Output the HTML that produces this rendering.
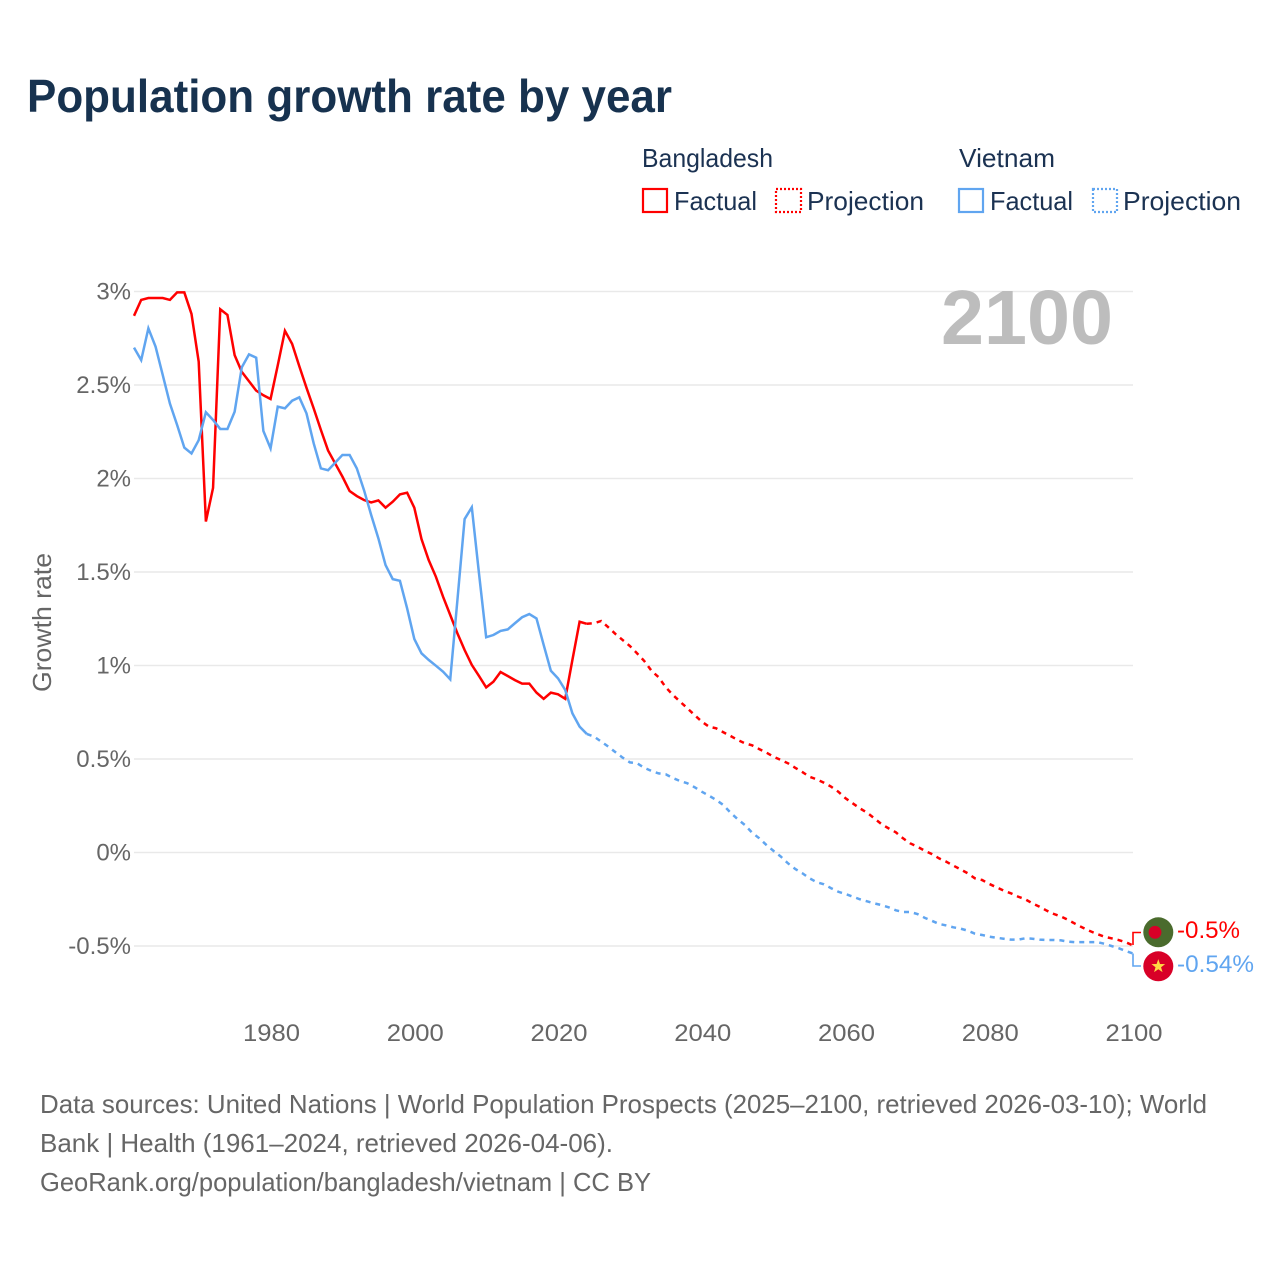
<!DOCTYPE html>
<html lang="en">
<head>
<meta charset="utf-8">
<title>Population growth rate by year</title>
<style>
html,body{margin:0;padding:0;background:#fff;}
svg{display:block;font-family:"Liberation Sans",sans-serif;}
</style>
</head>
<body>
<svg id="chart" xmlns="http://www.w3.org/2000/svg" width="1280" height="1280" viewBox="0 0 1280 1280">
  <rect x="0" y="0" width="1280" height="1280" fill="#ffffff"/>
  <text x="27" y="112" font-size="46" font-weight="700" fill="#17324f" textLength="645" lengthAdjust="spacingAndGlyphs">Population growth rate by year</text>

  <g font-size="26" fill="#1b3252">
    <text x="642" y="167" textLength="131" lengthAdjust="spacingAndGlyphs">Bangladesh</text>
    <text x="959" y="167" textLength="96" lengthAdjust="spacingAndGlyphs">Vietnam</text>
    <g>
      <rect x="643" y="189" width="24" height="23" fill="none" stroke="#ff0000" stroke-width="2.2"/>
      <text x="674" y="210" textLength="83" lengthAdjust="spacingAndGlyphs">Factual</text>
    </g>
    <g>
      <rect x="776" y="189" width="25" height="23" fill="none" stroke="#ff0000" stroke-width="2.2" stroke-dasharray="2 2"/>
      <text x="807" y="210" textLength="117" lengthAdjust="spacingAndGlyphs">Projection</text>
    </g>
    <g>
      <rect x="959" y="189" width="24" height="23" fill="none" stroke="#60a5f0" stroke-width="2.2"/>
      <text x="990" y="210" textLength="83" lengthAdjust="spacingAndGlyphs">Factual</text>
    </g>
    <g>
      <rect x="1093" y="189" width="24" height="23" fill="none" stroke="#60a5f0" stroke-width="2.2" stroke-dasharray="2 2"/>
      <text x="1123" y="210" textLength="118" lengthAdjust="spacingAndGlyphs">Projection</text>
    </g>
  </g>

  <g id="grid"></g>
  <g id="yTickLabels" font-size="24" fill="#666666" text-anchor="end"></g>
  <g id="xTickLabels" font-size="24" fill="#666666" text-anchor="middle"></g>
  <text transform="translate(51,692) rotate(-90)" font-size="26" fill="#666666" textLength="139" lengthAdjust="spacingAndGlyphs">Growth rate</text>

  <text x="941" y="344" font-size="77" font-weight="700" fill="#bdbdbd" textLength="172" lengthAdjust="spacingAndGlyphs">2100</text>

  <g id="series"></g>

  <path d="M1133 945V932.5H1141" fill="none" stroke="#ff0000" stroke-width="1.6"/>
  <path d="M1133 953.5V966H1141" fill="none" stroke="#60a5f0" stroke-width="1.6"/>

  <g>
    <circle cx="1158.3" cy="932.3" r="15" fill="#4a6b2d"/>
    <circle cx="1155" cy="932.3" r="6.4" fill="#d80027"/>
  </g>
  <g>
    <circle cx="1158.3" cy="966.3" r="15" fill="#d80027"/>
    <polygon fill="#ffda44" points="1158.3,959.1 1160,963.95 1165.15,964.08 1161.06,967.2 1162.53,972.12 1158.3,969.2 1154.07,972.12 1155.54,967.2 1151.45,964.08 1156.6,963.95"/>
  </g>
  <text x="1177" y="938" font-size="24" fill="#ff0000" textLength="63" lengthAdjust="spacingAndGlyphs">-0.5%</text>
  <text x="1177" y="972" font-size="24" fill="#60a5f0" textLength="77" lengthAdjust="spacingAndGlyphs">-0.54%</text>

  <g font-size="26" fill="#666666">
    <text x="40" y="1113" textLength="1167" lengthAdjust="spacingAndGlyphs">Data sources: United Nations | World Population Prospects (2025–2100, retrieved 2026-03-10); World</text>
    <text x="40" y="1152" textLength="573" lengthAdjust="spacingAndGlyphs">Bank | Health (1961–2024, retrieved 2026-04-06).</text>
    <text x="40" y="1191" textLength="611" lengthAdjust="spacingAndGlyphs">GeoRank.org/population/bangladesh/vietnam | CC BY</text>
  </g>
</svg>
<script>
const factualStartYear = 1961;
const projectionStartYear = 2024;
const xTicks = [1980, 2000, 2020, 2040, 2060, 2080, 2100];
const yTicks = [3, 2.5, 2, 1.5, 1, 0.5, 0, -0.5];
const yTickLabels = ['3%', '2.5%', '2%', '1.5%', '1%', '0.5%', '0%', '-0.5%'];
const bangladeshFactual = [
  2.87,2.955,2.965,2.965,2.965,2.955,2.995,2.995,2.88,2.625,
  1.77,1.95,2.905,2.875,2.66,2.57,2.52,2.47,2.445,2.425,
  2.605,2.79,2.72,2.6,2.485,2.375,2.26,2.15,2.08,2.01,
  1.933,1.906,1.885,1.872,1.883,1.844,1.876,1.915,1.924,1.844,
  1.676,1.564,1.475,1.368,1.27,1.172,1.083,1.003,0.944,0.883,
  0.913,0.965,0.944,0.922,0.903,0.903,0.855,0.822,0.855,0.846,
  0.822,1.03,1.234,1.223
];
const vietnamFactual = [
  2.70,2.633,2.803,2.705,2.553,2.40,2.286,2.165,2.134,2.205,
  2.354,2.313,2.265,2.265,2.357,2.595,2.664,2.646,2.254,2.161,
  2.384,2.375,2.416,2.434,2.348,2.188,2.054,2.044,2.085,2.126,
  2.126,2.054,1.938,1.805,1.68,1.537,1.462,1.453,1.306,1.142,
  1.065,1.03,0.999,0.967,0.926,1.35,1.783,1.846,1.493,1.151,
  1.163,1.185,1.193,1.226,1.258,1.275,1.252,1.11,0.972,0.931,
  0.869,0.744,0.673,0.634
];
const bangladeshProjection = [
  1.223,1.226,1.238,1.204,1.168,1.136,1.104,
  1.065,1.024,0.972,0.937,0.883,0.842,0.806,0.771,0.735,0.70,
  0.673,0.664,0.643,0.623,0.602,0.584,0.573,0.553,0.534,0.512,
  0.495,0.477,0.453,0.430,0.405,0.391,0.373,0.352,0.325,0.29,
  0.263,0.236,0.213,0.183,0.152,0.129,0.108,0.076,0.049,0.031,
  0.01,-0.008,-0.031,-0.049,-0.07,-0.09,-0.111,-0.138,-0.147,-0.168,
  -0.186,-0.204,-0.218,-0.236,-0.25,-0.272,-0.29,-0.311,-0.329,-0.343,
  -0.361,-0.382,-0.402,-0.42,-0.436,-0.45,-0.459,-0.468,-0.48,-0.497
];
const vietnamProjection = [
  0.634,0.62,0.593,0.566,0.536,0.507,0.482,
  0.477,0.453,0.436,0.423,0.418,0.398,0.382,0.37,0.349,0.325,
  0.304,0.281,0.254,0.213,0.178,0.147,0.106,0.076,0.04,0.008,
  -0.022,-0.058,-0.088,-0.111,-0.138,-0.159,-0.17,-0.191,-0.21,-0.222,
  -0.236,-0.25,-0.261,-0.272,-0.281,-0.293,-0.309,-0.318,-0.318,-0.329,
  -0.349,-0.365,-0.382,-0.39,-0.4,-0.407,-0.418,-0.434,-0.441,-0.45,
  -0.456,-0.461,-0.466,-0.466,-0.459,-0.461,-0.466,-0.468,-0.468,-0.47,
  -0.477,-0.48,-0.479,-0.479,-0.479,-0.488,-0.5,-0.512,-0.527,-0.54
];

const NS = 'http://www.w3.org/2000/svg';
function xScale(year) { return 1133 - (2100 - year) * 7.187; }
function yScale(v) { return 852.5 - v * 187; }
function linePath(values, startYear) {
  return values.map(function (v, i) {
    return (i ? 'L' : 'M') + xScale(startYear + i).toFixed(2) + ' ' + yScale(v).toFixed(2);
  }).join('');
}

const gridGroup = document.getElementById('grid');
const yLabelGroup = document.getElementById('yTickLabels');
yTicks.forEach(function (t, i) {
  const line = document.createElementNS(NS, 'line');
  
  
  line.setAttribute('x1', xScale(factualStartYear));
  line.setAttribute('x2', xScale(2100));
  line.setAttribute('y1', yScale(t));
  line.setAttribute('y2', yScale(t));
  line.setAttribute('stroke', '#e9e9e9');
  line.setAttribute('stroke-width', '1.4');
  gridGroup.appendChild(line);

  const label = document.createElementNS(NS, 'text');
  
  
  label.setAttribute('x', 131);
  label.setAttribute('y', yScale(t) + 8);
  label.textContent = yTickLabels[i];
  yLabelGroup.appendChild(label);
});

const xLabelGroup = document.getElementById('xTickLabels');
xTicks.forEach(function (t) {
  const label = document.createElementNS(NS, 'text');
  
  
  label.setAttribute('x', xScale(t) + 1);
  label.setAttribute('y', 1041);
  label.setAttribute('textLength', 57);
  label.setAttribute('lengthAdjust', 'spacingAndGlyphs');
  label.textContent = t;
  xLabelGroup.appendChild(label);
});

const seriesGroup = document.getElementById('series');
function addLine(name, values, startYear, color, dashed) {
  const path = document.createElementNS(NS, 'path');
  
  
  path.setAttribute('d', linePath(values, startYear));
  path.setAttribute('fill', 'none');
  path.setAttribute('stroke', color);
  path.setAttribute('stroke-width', '2.5');
  path.setAttribute('stroke-linejoin', 'miter');
  if (dashed) { path.setAttribute('stroke-dasharray', '5 5'); }
  seriesGroup.appendChild(path);
}
addLine('line-vietnam-projection', vietnamProjection, projectionStartYear, '#60a5f0', true);
addLine('line-bangladesh-projection', bangladeshProjection, projectionStartYear, '#ff0000', true);
addLine('line-bangladesh-factual', bangladeshFactual, factualStartYear, '#ff0000', false);
addLine('line-vietnam-factual', vietnamFactual, factualStartYear, '#60a5f0', false);
</script>
</body>
</html>
